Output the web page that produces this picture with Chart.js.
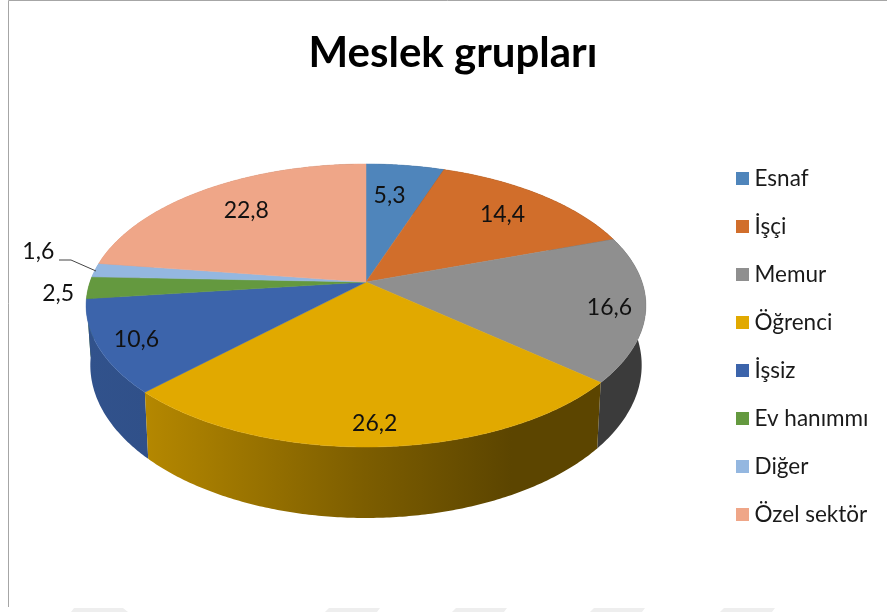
<!DOCTYPE html>
<html>
<head>
<meta charset="utf-8">
<title>Meslek grupları</title>
<script src="https://cdn.jsdelivr.net/npm/chart.js@4"></script>
<style>
    html, body { margin: 0; padding: 0; background: #fff; }
    canvas { display: block; }
</style>
</head>
<body>
<canvas id="pieChart" width="887" height="612"></canvas>
<script>
const categories = ['Esnaf', 'İşçi', 'Memur', 'Öğrenci', 'İşsiz', 'Ev hanımmı', 'Diğer', 'Özel sektör'];
const values = [5.3, 14.4, 16.6, 26.2, 10.6, 2.5, 1.6, 22.8];
const sliceColors = ['#4f85bb', '#d16e2b', '#8f8f8f', '#e1a900', '#3c64ab', '#64993f', '#94b7e0', '#efa688'];

// where each value label sits: fraction of the radius, then a nudge in px
const labelRadius = [0.75, 0.75, 0.87, 0.88, 0.87, 1.108, 1.213, 0.72];
const labelNudgeX = [-7, 2, 1, -2, 1, 0, 0, 0];
const labelNudgeY = [4, 0, 3, 0, 2, 5, -16, -3];

// faint marks along the bottom edge of the scan
const scanMarksX = [71, 325, 452, 590, 720];

// the 3D look: top face is a circle seen in perspective
const centerX = 366, centerY = 282;
const tilt = 0.166, spreadX = 276, spreadY = 137.6;

function project(angle, r) {
    const u = r * Math.cos(angle);
    const v = r * Math.sin(angle);
    const d = 1 - tilt * v;
    return { x: centerX + spreadX * u / d, y: centerY + spreadY * v / d };
}

// same rim, moved down to the bottom of the wall
function lower(p) {
    return { x: centerX + 0.985 * (p.x - centerX), y: 339.8 + 1.08 * (p.y - centerY) };
}

function shade(hex, f) {
    const n = parseInt(hex.slice(1), 16);
    const r = Math.round((n >> 16) * f);
    const g = Math.round(((n >> 8) & 255) * f);
    const b = Math.round((n & 255) * f);
    return `rgb(${r}, ${g}, ${b})`;
}

function rimPoints(start, end) {
    const pts = [];
    const steps = Math.max(4, Math.ceil((end - start) / 0.01));
    for (let i = 0; i <= steps; i++) {
        pts.push(project(start + (end - start) * i / steps, 1));
    }
    return pts;
}

function tracePolygon(ctx, pts) {
    ctx.beginPath();
    pts.forEach((p, i) => i ? ctx.lineTo(p.x, p.y) : ctx.moveTo(p.x, p.y));
    ctx.closePath();
}

// legend swatch as a small canvas, so the text can sit closer to it than the default gap
function swatch(color) {
    const c = document.createElement('canvas');
    c.width = 13;
    c.height = 13;
    const g = c.getContext('2d');
    g.fillStyle = color;
    g.fillRect(0, 0, 13, 13);
    return c;
}

const pie3d = {
    id: 'pie3d',
    beforeDraw(chart) {
        const ctx = chart.ctx;
        ctx.save();
        // frame, only top and left show in the picture
        ctx.strokeStyle = '#a6a6a6';
        ctx.lineWidth = 1;
        ctx.beginPath();
        ctx.moveTo(8.5, 607);
        ctx.lineTo(8.5, 0.5);
        ctx.lineTo(887, 0.5);
        ctx.stroke();
        ctx.fillStyle = '#eeeeee';
        scanMarksX.forEach((x, i) => {
            tracePolygon(ctx, i === 0
                ? [{ x: x + 3, y: 608 }, { x: x + 52, y: 608 }, { x: x + 57, y: 612 }, { x: x, y: 612 }]
                : [{ x: x + 4, y: 608 }, { x: x + 55, y: 608 }, { x: x + 52, y: 612 }, { x: x, y: 612 }]);
            ctx.fill();
        });
        ctx.restore();
    },
    beforeDatasetsDraw(chart) {
        const ctx = chart.ctx;
        const arcs = chart.getDatasetMeta(0).data;
        const mid = arc => Math.sin((arc.startAngle + arc.endAngle) / 2);
        ctx.save();

        // walls first, back to front, the top face covers whatever is behind it
        arcs.map((arc, i) => i)
            .sort((a, b) => mid(arcs[a]) - mid(arcs[b]))
            .forEach(i => {
                const rim = rimPoints(arcs[i].startAngle, arcs[i].endAngle);
                const wall = rim.concat(rim.map(lower).reverse());
                const grad = ctx.createLinearGradient(86, 0, 646, 0);
                grad.addColorStop(0, shade(sliceColors[i], 0.82));
                grad.addColorStop(0.11, shade(sliceColors[i], 0.8));
                grad.addColorStop(0.5, shade(sliceColors[i], 0.55));
                grad.addColorStop(0.76, shade(sliceColors[i], 0.41));
                grad.addColorStop(1, shade(sliceColors[i], 0.41));
                tracePolygon(ctx, wall);
                ctx.fillStyle = grad;
                ctx.fill();
            });

        arcs.forEach((arc, i) => {
            const rim = rimPoints(arc.startAngle, arc.endAngle);
            tracePolygon(ctx, [{ x: centerX, y: centerY }].concat(rim));
            ctx.fillStyle = sliceColors[i];
            ctx.strokeStyle = sliceColors[i];
            ctx.lineWidth = 0.5;
            ctx.fill();
            ctx.stroke();
        });
        ctx.restore();
        return false;
    },
    // afterDatasetsDraw is skipped once beforeDatasetsDraw returned false
    afterDraw(chart) {
        const ctx = chart.ctx;
        const arcs = chart.getDatasetMeta(0).data;
        ctx.save();
        ctx.font = '23px Lato';
        ctx.fillStyle = '#111';
        ctx.textAlign = 'center';
        ctx.textBaseline = 'middle';
        arcs.forEach((arc, i) => {
            const p = project((arc.startAngle + arc.endAngle) / 2, labelRadius[i]);
            ctx.fillText(values[i].toFixed(1).replace('.', ','), p.x + labelNudgeX[i], p.y + labelNudgeY[i]);
        });
        // leader line of the small slice
        ctx.strokeStyle = '#444';
        ctx.lineWidth = 1;
        ctx.beginPath();
        ctx.moveTo(59, 260);
        ctx.lineTo(71, 260);
        ctx.lineTo(96, 271);
        ctx.stroke();
        ctx.restore();
    }
};

new Chart(document.getElementById('pieChart'), {
    type: 'pie',
    data: {
        labels: categories,
        datasets: [{
            data: values,
            backgroundColor: sliceColors
        }]
    },
    options: {
        responsive: false,
        animation: false,
        events: [],
        layout: { padding: { left: 27.5, right: 8.5, top: 0, bottom: 0 } },
        plugins: {
            title: {
                display: true,
                text: 'Meslek grupları',
                color: '#000',
                font: { family: 'Lato', size: 42, weight: 'bold', lineHeight: 1 },
                padding: { top: 32, bottom: 7 }
            },
            legend: {
                position: 'right',
                fullSize: false,
                labels: {
                    color: '#1a1a1a',
                    font: { family: 'Lato', size: 22.5, lineHeight: 1 },
                    boxWidth: 13,
                    boxHeight: 13,
                    padding: 25.5,
                    usePointStyle: true,
                    pointStyleWidth: 1.5,
                    generateLabels(chart) {
                        return Chart.overrides.pie.plugins.legend.labels.generateLabels(chart)
                            .map((item, i) => Object.assign(item, { pointStyle: swatch(sliceColors[i]) }));
                    }
                }
            },
            tooltip: { enabled: false }
        }
    },
    plugins: [pie3d]
});
</script>
</body>
</html>
